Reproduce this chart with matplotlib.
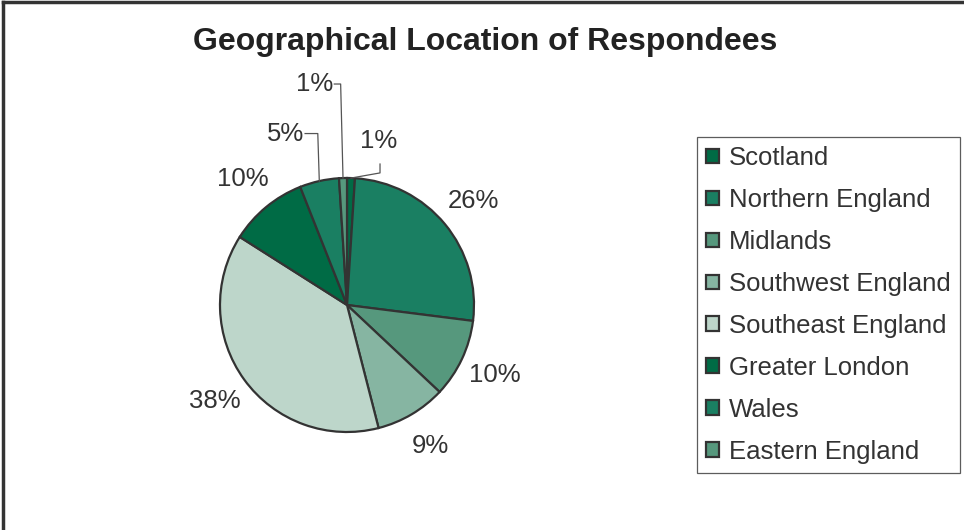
import numpy as np
import matplotlib.pyplot as plt
from matplotlib.lines import Line2D

plt.rcParams['font.family'] = ['Liberation Sans', 'DejaVu Sans']

regions = ['Scotland', 'Northern England', 'Midlands', 'Southwest England',
           'Southeast England', 'Greater London', 'Wales', 'Eastern England']
shares = [1, 26, 10, 9, 38, 10, 5, 1]
colours = ['#006b45', '#1a7f62', '#56987d', '#86b5a2',
           '#bdd6ca', '#006b45', '#1a7f62', '#56987d']

W, H = 964, 530
fig = plt.figure(figsize=(W / 100, H / 100), dpi=100)
txt = '#333333'
fs = 18.5

# pie axes: centre (347, 305) px, radius 127 px
ax = fig.add_axes([220 / W, 98 / H, 254 / W, 254 / H])
wedges, _ = ax.pie(shares, colors=colours, startangle=90, counterclock=False,
                   radius=1, wedgeprops=dict(edgecolor='#333333', linewidth=1.6))
ax.set_xlim(-1, 1)
ax.set_ylim(-1, 1)
ax.set_aspect('equal')
ax.axis('off')

# small slices get leader lines, the others sit just outside the rim
leaders = {0: [(0.26, 1.04), (0.26, 1.11)],
           6: [(-0.23, 1.35), (-0.33, 1.35)],
           7: [(-0.05, 1.74), (-0.10, 1.74)]}
label_pos = {0: (0.25, 1.29, 'center'),
             6: (-0.34, 1.35, 'right'),
             7: (-0.11, 1.74, 'right')}
for i, (w, v) in enumerate(zip(wedges, shares)):
    mid = np.deg2rad((w.theta1 + w.theta2) / 2)
    x0, y0 = np.cos(mid), np.sin(mid)
    if i in leaders:
        pts = [(x0, y0)] + leaders[i]
        ax.plot([p[0] for p in pts], [p[1] for p in pts], color='#555555',
                lw=0.9, clip_on=False)
        lx, ly, ha = label_pos[i]
        ax.text(lx, ly, f'{v}%', ha=ha, va='center', fontsize=fs,
                color=txt, clip_on=False)
    else:
        ax.text(1.29 * x0, 1.29 * y0, f'{v}%', ha='center', va='center',
                fontsize=fs, color=txt, clip_on=False)

fig.text(485 / W, 1 - 42 / H, 'Geographical Location of Respondees',
         ha='center', va='center', fontsize=23, fontweight='bold', color='#222222')

leg = fig.legend(wedges, regions, loc='upper left',
                 bbox_to_anchor=(697 / W, 1 - 137 / H), fontsize=fs,
                 frameon=True, fancybox=False, edgecolor='#333333',
                 handlelength=0.5, handleheight=0.5, handletextpad=0.4,
                 labelspacing=0.70, borderpad=0.35, borderaxespad=0)
leg.get_frame().set_linewidth(0.9)
for t in leg.get_texts():
    t.set_color(txt)

# outer chart frame (only top and left edges visible in the reference)
fig.add_artist(Line2D([2.5 / W, 1], [1 - 2 / H, 1 - 2 / H], color='#333333', lw=2.5))
fig.add_artist(Line2D([2.5 / W, 2.5 / W], [0, 1 - 2 / H], color='#333333', lw=2.5))

fig.savefig('out.png', dpi=100)
